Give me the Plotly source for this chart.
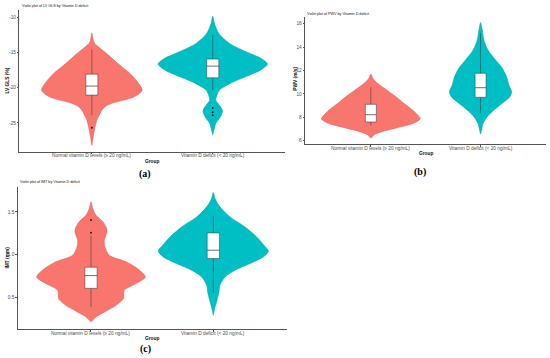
import plotly.graph_objects as go

W, H = 550, 358

groups = ["Normal vitamin D levels (≥ 20 ng/mL)", "Vitamin D deficit (< 20 ng/mL)"]
colors = ["#F8766D", "#00BFC4"]
edge_colors = ["#E0675F", "#00A9AE"]

# ---------- LV GLS (%) ----------
gls_norm_y = [-12.2, -13.2, -13.7, -15.1, -16.55, -18.0, -19.15, -20.35, -21.3, -22.25, -22.7, -23.2, -24.1, -24.6, -26.0, -27.0, -28.2]
gls_norm_w = [0, 0.011, 0.024, 0.12, 0.215, 0.317, 0.377, 0.416, 0.35, 0.16, 0.11, 0.083, 0.055, 0.041, 0.022, 0.011, 0]
gls_def_y = [-9.85, -10.86, -12.28, -13.7, -14.89, -15.84, -16.64, -17.5, -18.45, -19.39, -20.34, -21.29, -21.8, -22.4, -23.0, -23.4, -24.1, -25.08, -26.03, -26.7]
gls_def_w = [0, 0.014, 0.05, 0.138, 0.275, 0.4, 0.452, 0.394, 0.27, 0.143, 0.055, 0.03, 0.025, 0.05, 0.075, 0.08, 0.065, 0.025, 0.01, 0]
gls_q1 = [-21.05, -18.59]
gls_med = [-19.77, -16.93]
gls_q3 = [-18.07, -15.93]
gls_lo = [-23.9, -20.34]
gls_hi = [-14.55, -12.52]
gls_out = [[-25.7], [-22.9, -23.5, -23.9]]
gls_ticks = [-25, -20, -15, -10]
gls_tick_labels = ["-25", "-20", "-15", "-10"]

# ---------- PWV (m/s) ----------
pwv_norm_y = [11.7, 11.33, 10.9, 10.48, 9.76, 9.2, 8.62, 8.05, 7.85, 7.49, 7.11, 6.77, 6.5, 6.2]
pwv_norm_w = [0, 0.018, 0.061, 0.122, 0.228, 0.30, 0.38, 0.44, 0.45, 0.39, 0.24, 0.10, 0.03, 0]
pwv_def_y = [16.09, 15.46, 14.6, 13.75, 12.9, 12.19, 11.47, 10.76, 10.19, 9.76, 9.2, 8.62, 8.05, 7.49, 6.91, 6.57]
pwv_def_w = [0, 0.015, 0.03, 0.067, 0.137, 0.198, 0.237, 0.258, 0.283, 0.267, 0.198, 0.122, 0.061, 0.024, 0.009, 0]
pwv_q1 = [7.6, 9.71]
pwv_med = [8.22, 10.53]
pwv_q3 = [9.11, 11.76]
pwv_lo = [7.3, 8.34]
pwv_hi = [10.56, 15.18]
pwv_out = [[], []]
pwv_ticks = [6, 8, 10, 12, 14, 16]
pwv_tick_labels = ["6", "8", "10", "12", "14", "16"]

# ---------- IMT (mm) ----------
imt_norm_y = [1.617, 1.54, 1.461, 1.383, 1.305, 1.266, 1.227, 1.168, 1.09, 0.992, 0.914, 0.836, 0.738, 0.66, 0.582, 0.485, 0.406, 0.328, 0.269, 0.211]
imt_norm_w = [0, 0.014, 0.041, 0.098, 0.128, 0.131, 0.123, 0.109, 0.114, 0.15, 0.29, 0.38, 0.444, 0.368, 0.272, 0.265, 0.205, 0.11, 0.041, 0]
imt_def_y = [1.727, 1.657, 1.559, 1.441, 1.324, 1.207, 1.11, 1.04, 0.973, 0.895, 0.817, 0.738, 0.64, 0.562, 0.484, 0.386, 0.289]
imt_def_w = [0, 0.014, 0.054, 0.136, 0.259, 0.354, 0.414, 0.45, 0.409, 0.3, 0.177, 0.095, 0.054, 0.046, 0.033, 0.014, 0]
imt_q1 = [0.605, 0.954]
imt_med = [0.754, 1.051]
imt_q3 = [0.852, 1.254]
imt_lo = [0.386, 0.55]
imt_hi = [1.22, 1.45]
imt_out = [[1.255, 1.405], []]
imt_ticks = [0.5, 1.0, 1.5]
imt_tick_labels = ["0.5", "1.0", "1.5"]

panels = [
    dict(name="LV GLS", ytitle="LV GLS (%)", caption="(a)",
         vy=[gls_norm_y, gls_def_y], vw=[gls_norm_w, gls_def_w],
         q1=gls_q1, med=gls_med, q3=gls_q3, lo=gls_lo, hi=gls_hi, out=gls_out,
         ticks=gls_ticks, ticklabels=gls_tick_labels, yrange=[-29.1, -8.95],
         px=(19.3, 285.3), py=(10.0, 151.7),
         title_xy=(20, 6), ytitle_xy=(6.5, 81), xlab_y=155.5, group_xy=(152, 161), cap_xy=(145, 174)),
    dict(name="PWV", ytitle="PWV (m/s)", caption="(b)",
         vy=[pwv_norm_y, pwv_def_y], vw=[pwv_norm_w, pwv_def_w],
         q1=pwv_q1, med=pwv_med, q3=pwv_q3, lo=pwv_lo, hi=pwv_hi, out=pwv_out,
         ticks=pwv_ticks, ticklabels=pwv_tick_labels, yrange=[5.69, 16.6],
         px=(305.0, 546.4), py=(16.7, 144.3),
         title_xy=(304.5, 13.7), ytitle_xy=(295.7, 79), xlab_y=148, group_xy=(425.5, 153.5), cap_xy=(420, 172)),
    dict(name="IMT", ytitle="IMT (mm)", caption="(c)",
         vy=[imt_norm_y, imt_def_y], vw=[imt_norm_w, imt_def_w],
         q1=imt_q1, med=imt_med, q3=imt_q3, lo=imt_lo, hi=imt_hi, out=imt_out,
         ticks=imt_ticks, ticklabels=imt_tick_labels, yrange=[0.125, 1.795],
         px=(17.6, 286.7), py=(186.7, 329.3),
         title_xy=(18, 182.3), ytitle_xy=(6.5, 258), xlab_y=333.3, group_xy=(152, 338.5), cap_xy=(145, 349)),
]

BOX_HW = 0.05

fig = go.Figure()
annotations = []

def fx(p):
    return p / W

def fy(p):
    return 1 - p / H

for i, p in enumerate(panels):
    n = "" if i == 0 else str(i + 1)
    xa, ya = "x" + n, "y" + n
    for g in range(2):
        ys, ws = p["vy"][g], p["vw"][g]
        xs = [g - w for w in ws] + [g + w for w in reversed(ws)]
        yy = list(ys) + list(reversed(ys))
        fig.add_trace(go.Scatter(
            x=xs, y=yy, mode="lines", fill="toself",
            fillcolor=colors[g], line=dict(color=edge_colors[g], width=0.6, shape="spline", smoothing=0.8),
            xaxis=xa, yaxis=ya, hoverinfo="skip", showlegend=False))
        # whiskers
        fig.add_trace(go.Scatter(
            x=[g, g, None, g, g], y=[p["lo"][g], p["q1"][g], None, p["q3"][g], p["hi"][g]],
            mode="lines", line=dict(color="#333333", width=0.5),
            xaxis=xa, yaxis=ya, hoverinfo="skip", showlegend=False))
        # box
        fig.add_trace(go.Scatter(
            x=[g - BOX_HW, g + BOX_HW, g + BOX_HW, g - BOX_HW, g - BOX_HW],
            y=[p["q1"][g], p["q1"][g], p["q3"][g], p["q3"][g], p["q1"][g]],
            mode="lines", fill="toself", fillcolor="white",
            line=dict(color="#333333", width=0.5),
            xaxis=xa, yaxis=ya, hoverinfo="skip", showlegend=False))
        # median
        fig.add_trace(go.Scatter(
            x=[g - BOX_HW, g + BOX_HW], y=[p["med"][g], p["med"][g]],
            mode="lines", line=dict(color="#333333", width=0.7),
            xaxis=xa, yaxis=ya, hoverinfo="skip", showlegend=False))
        if p["out"][g]:
            fig.add_trace(go.Scatter(
                x=[g] * len(p["out"][g]), y=p["out"][g], mode="markers",
                marker=dict(color="#222222", size=2),
                xaxis=xa, yaxis=ya, showlegend=False))
        annotations.append(dict(text=groups[g], x=g, xref=xa, y=fy(p["xlab_y"]), yref="paper",
                                xanchor="center", yanchor="middle", showarrow=False,
                                font=dict(size=4.8, color="#4D4D4D", family="Liberation Sans")))

    axis_common = dict(showline=True, linecolor="#555555", linewidth=0.6,
                       ticks="outside", ticklen=1.5, tickwidth=0.5, tickcolor="#555555",
                       showgrid=False, zeroline=False,
                       tickfont=dict(size=4.8, color="#4D4D4D", family="Liberation Sans"))
    fig.layout["xaxis" + n] = dict(
        domain=[fx(p["px"][0]), fx(p["px"][1])], anchor=ya, range=[-0.6, 1.6],
        tickvals=[0, 1], showticklabels=False, **axis_common)
    fig.layout["yaxis" + n] = dict(
        domain=[fy(p["py"][1]), fy(p["py"][0])], anchor=xa, range=p["yrange"],
        tickvals=p["ticks"], ticktext=p["ticklabels"], **axis_common)

    annotations.append(dict(text="Violin plot of " + p["name"] + " by Vitamin D deficit",
                            x=fx(p["title_xy"][0]), y=fy(p["title_xy"][1]), xref="paper", yref="paper",
                            xanchor="left", yanchor="middle", showarrow=False,
                            font=dict(size=3.7, color="#111111", family="Liberation Sans")))
    annotations.append(dict(text="<b>" + p["ytitle"] + "</b>", textangle=-90,
                            x=fx(p["ytitle_xy"][0]), y=fy(p["ytitle_xy"][1]), xref="paper", yref="paper",
                            xanchor="center", yanchor="middle", showarrow=False,
                            font=dict(size=4.8, color="#111111", family="Liberation Sans")))
    annotations.append(dict(text="<b>Group</b>",
                            x=fx(p["group_xy"][0]), y=fy(p["group_xy"][1]), xref="paper", yref="paper",
                            xanchor="center", yanchor="middle", showarrow=False,
                            font=dict(size=4.8, color="#111111", family="Liberation Sans")))
    annotations.append(dict(text="<b>" + p["caption"] + "</b>",
                            x=fx(p["cap_xy"][0]), y=fy(p["cap_xy"][1]), xref="paper", yref="paper",
                            xanchor="center", yanchor="middle", showarrow=False,
                            font=dict(size=10, color="#000000", family="Liberation Serif")))

fig.update_layout(width=W, height=H, margin=dict(l=0, r=0, t=0, b=0),
                  paper_bgcolor="white", plot_bgcolor="white",
                  annotations=annotations, showlegend=False)

fig.write_html("out.html", config={"displayModeBar": False},
               post_script="document.body.style.margin='0px';document.body.style.overflow='hidden';")
